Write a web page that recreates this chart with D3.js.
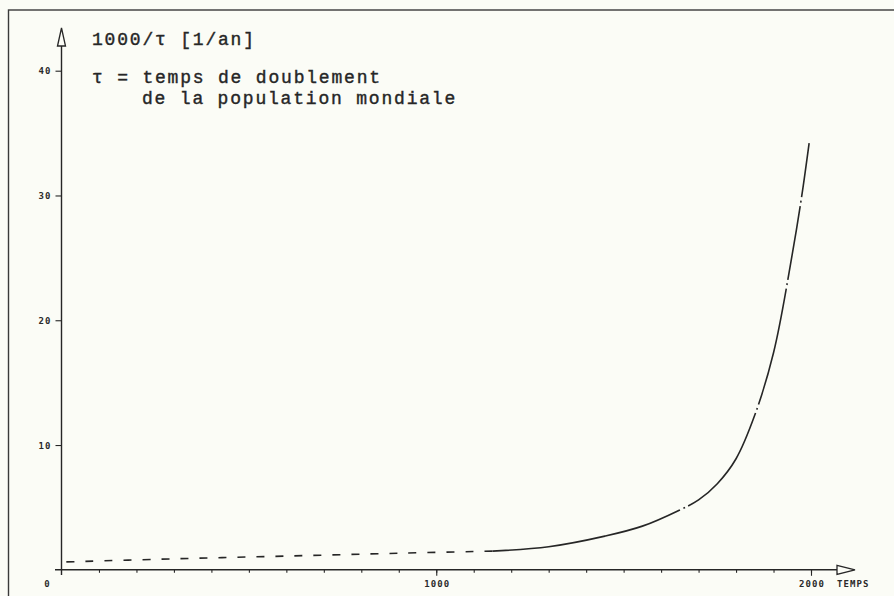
<!DOCTYPE html>
<html>
<head>
<meta charset="utf-8">
<script src="https://cdn.jsdelivr.net/npm/d3@7"></script>
<style>
  body { margin: 0; background: #fbfcf6; }
  svg { display: block; }
  .big { font-family: "Liberation Mono", monospace; font-size: 18px; fill: #262626; stroke: #262626; stroke-width: 0.4; letter-spacing: 1.8px; }
  .small { font-family: "DejaVu Sans Mono", monospace; font-size: 9px; font-weight: bold; fill: #2a2a2a; letter-spacing: 1.1px; }
</style>
</head>
<body>
<div id="chart"></div>
<script>
// Values
const years = [0, 300, 600, 900, 1150, 1300, 1450, 1550, 1650, 1700, 1750, 1800, 1850, 1900, 1950, 1975, 1995];
const rate  = [0.62, 0.88, 1.1, 1.33, 1.5, 1.85, 2.7, 3.5, 4.8, 5.6, 6.9, 8.9, 12.4, 17.4, 25.3, 29.9, 34.2];
const dashedUntil = 1150;                 // before this year the curve is dashed
const gapYears = [1661, 1856, 1936, 1973]; // small dot-gaps in the solid part
const yTicks = [10, 20, 30, 40];
const xMajor = [1000, 2000];
const xMinor = d3.range(100, 2001, 100);

const ink = "#262626";
const W = 894, H = 596;

const svg = d3.select("#chart")
  .append("svg")
  .attr("width", W)
  .attr("height", H);

// Outer frame (runs off the right and bottom of the page)
svg.append("rect")
  .attr("x", 8.5).attr("y", 10)
  .attr("width", 900).attr("height", 600)
  .attr("fill", "none")
  .attr("stroke", "#3a3a3a")
  .attr("stroke-width", 1.4);

const x = d3.scaleLinear().domain([0, 2000]).range([61.5, 811]);
const y = d3.scaleLinear().domain([0, 40]).range([569.8, 70.7]);

// X axis: minor ticks, then major ticks with labels
svg.append("g")
  .attr("transform", `translate(0,${y(0)})`)
  .call(d3.axisBottom(x).tickValues(xMinor).tickSize(3).tickFormat(""))
  .call(g => g.select(".domain").remove())
  .call(g => g.selectAll("line").attr("stroke", ink).attr("stroke-width", 1.1));

svg.append("g")
  .attr("transform", `translate(0,${y(0)})`)
  .call(d3.axisBottom(x).tickValues(xMajor).tickSize(6).tickPadding(5).tickFormat(d3.format("d")))
  .call(g => g.select(".domain").remove())
  .call(g => g.selectAll("line").attr("stroke", ink).attr("stroke-width", 1.1))
  .call(g => g.selectAll("text").attr("class", "small").attr("dx", "0.5"));

svg.append("line")
  .attr("x1", 55).attr("x2", 837)
  .attr("y1", y(0)).attr("y2", y(0))
  .attr("stroke", ink).attr("stroke-width", 1.4);

// open arrow head at the end of the time axis
svg.append("path")
  .attr("d", `M837,${y(0) - 4.5}L855,${y(0)}L837,${y(0) + 4.5}Z`)
  .attr("fill", "none").attr("stroke", ink).attr("stroke-width", 1.3);

svg.append("text").attr("class", "small")
  .attr("x", 837).attr("y", y(0) + 17)
  .text("TEMPS");

svg.append("text").attr("class", "small")
  .attr("x", x(0) - 14).attr("y", y(0) + 17)
  .attr("text-anchor", "middle")
  .text("0");

// Y axis
svg.append("g")
  .attr("transform", `translate(${x(0)},0)`)
  .call(d3.axisLeft(y).tickValues(yTicks).tickSize(6).tickPadding(4))
  .call(g => g.select(".domain").remove())
  .call(g => g.selectAll("line").attr("stroke", ink).attr("stroke-width", 1.1))
  .call(g => g.selectAll("text").attr("class", "small").attr("dy", "0.35em"));

svg.append("line")
  .attr("x1", x(0)).attr("x2", x(0))
  .attr("y1", 575).attr("y2", 46)
  .attr("stroke", ink).attr("stroke-width", 1.4);

svg.append("path")
  .attr("d", `M${x(0) - 4},46L${x(0)},28L${x(0) + 4},46Z`)
  .attr("fill", "none").attr("stroke", ink).attr("stroke-width", 1.3);

// Texts
svg.append("text").attr("class", "big").attr("x", 92).attr("y", 45).text("1000/τ [1/an]");
svg.append("text").attr("class", "big").attr("x", 92).attr("y", 83).text("τ = temps de doublement");
svg.append("text").attr("class", "big").attr("x", 142).attr("y", 104).text("de la population mondiale");

// Curve
const pts = years.map((yr, i) => ({ yr, v: rate[i] }));
const line = d3.line().x(d => x(d.yr)).y(d => y(d.v)).curve(d3.curveCatmullRom.alpha(0.5));

svg.append("path")
  .datum(pts.filter(d => d.yr <= dashedUntil))
  .attr("d", line)
  .attr("fill", "none")
  .attr("stroke", ink)
  .attr("stroke-width", 1.6)
  .attr("stroke-dasharray", "8,11")
  .attr("stroke-dashoffset", 14);

const solid = svg.append("path")
  .datum(pts.filter(d => d.yr >= dashedUntil))
  .attr("d", line)
  .attr("fill", "none")
  .attr("stroke", ink)
  .attr("stroke-width", 1.6);

// put the small dot-gaps of the plotter pen at the right places
const node = solid.node();
const total = node.getTotalLength();
function lengthAtX(px) {
  let lo = 0, hi = total;
  for (let k = 0; k < 40; k++) {
    const mid = (lo + hi) / 2;
    if (node.getPointAtLength(mid).x < px) lo = mid; else hi = mid;
  }
  return (lo + hi) / 2;
}
const dash = [];
let pos = 0;
gapYears.forEach(yr => {
  const L = lengthAtX(x(yr));
  dash.push(L - 4.5 - pos, 3.6, 1.8, 3.6);
  pos = L + 4.5;
});
dash.push(total - pos + 2, total);
solid.attr("stroke-dasharray", dash.join(","));
</script>
</body>
</html>
